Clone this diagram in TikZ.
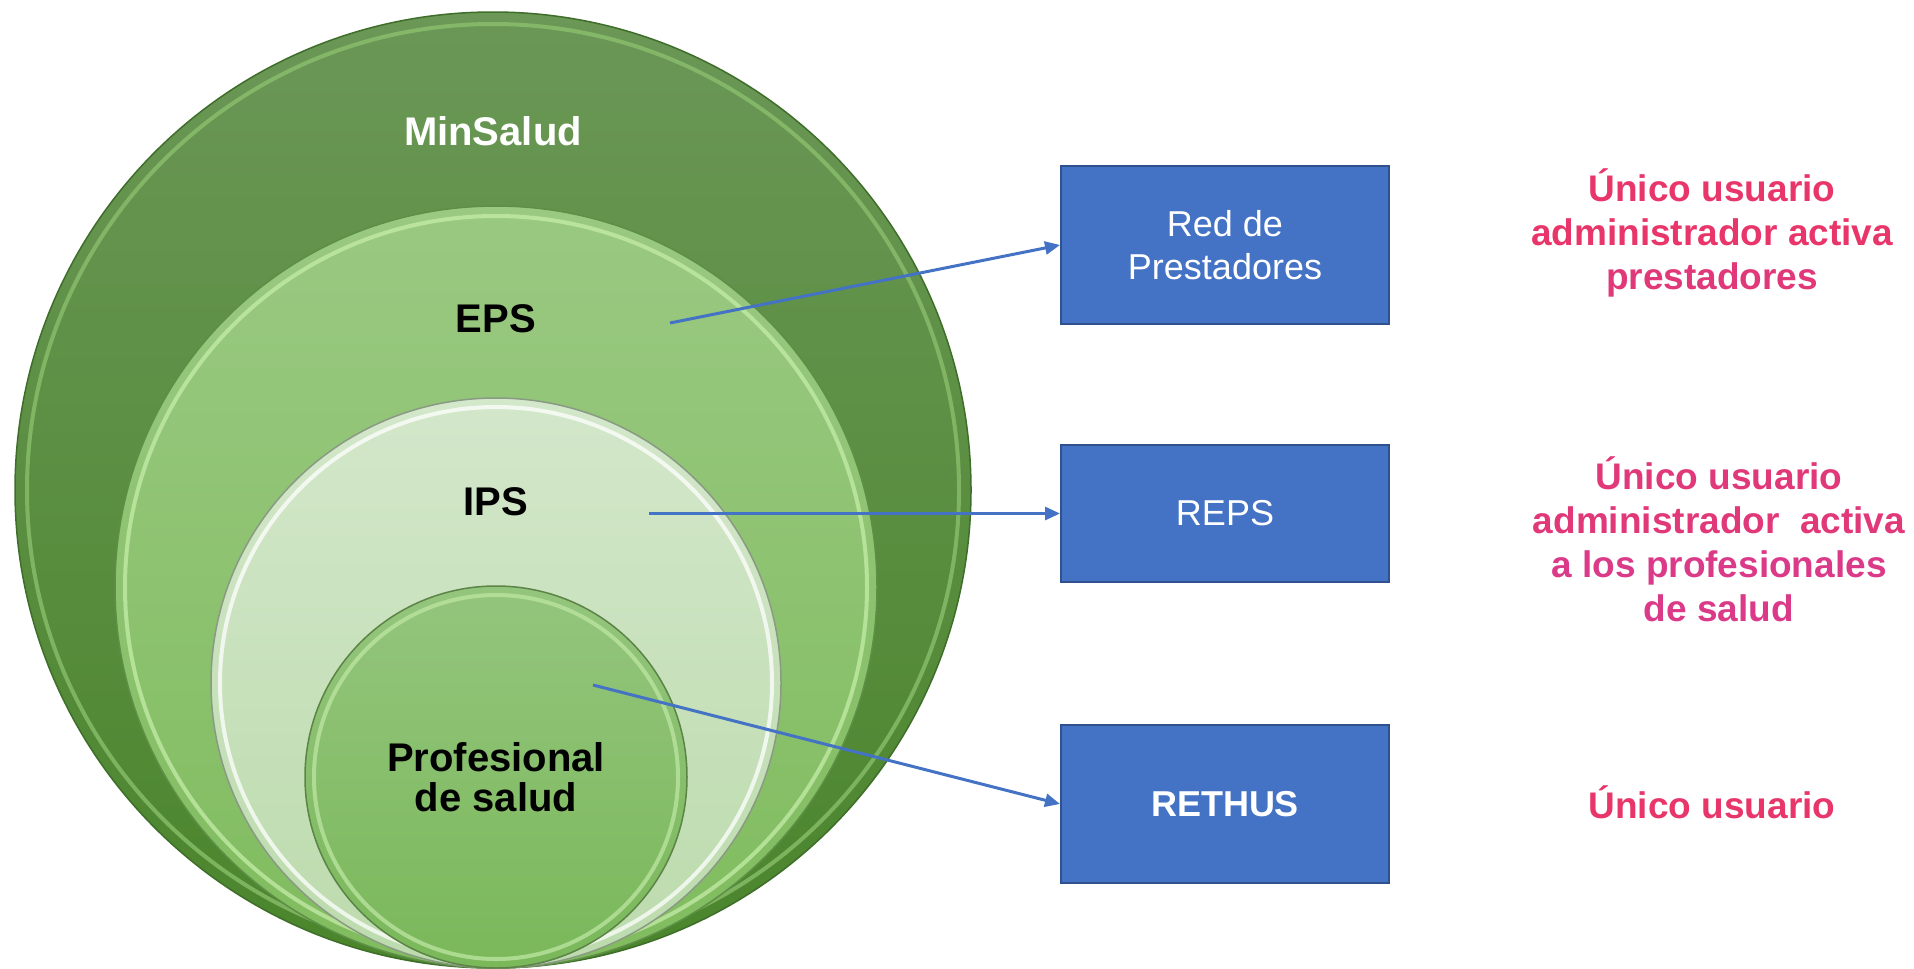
\documentclass[tikz,border=0pt]{standalone}
\usepackage{fontspec}
\setmainfont{Liberation Sans}
\usetikzlibrary{arrows.meta}
\definecolor{oTop}{HTML}{6B9757}
\definecolor{oBot}{HTML}{4A852B}
\definecolor{oEdge}{HTML}{3F6E2A}
\definecolor{oHi}{HTML}{8DC26F}
\definecolor{eTop}{HTML}{9AC982}
\definecolor{eBot}{HTML}{80BC5E}
\definecolor{eEdge}{HTML}{5E8F46}
\definecolor{eHi}{HTML}{C4EDA8}
\definecolor{iTop}{HTML}{D3E7CA}
\definecolor{iBot}{HTML}{BCDBAD}
\definecolor{iEdge}{HTML}{8A9A84}
\definecolor{iHi}{HTML}{FFFFFF}
\definecolor{pTop}{HTML}{94C57D}
\definecolor{pBot}{HTML}{7AB85A}
\definecolor{pEdge}{HTML}{5C8447}
\definecolor{pHi}{HTML}{BDE6A2}
\definecolor{boxblue}{HTML}{4472C4}
\definecolor{boxedge}{HTML}{2F528F}
\definecolor{pinkA}{HTML}{E8366A}
\definecolor{pinkB}{HTML}{E03879}
\definecolor{pinkC}{HTML}{DB3A88}
\begin{document}
\begin{tikzpicture}[x=1pt,y=-1pt,
  ring/.style={circle, inner sep=0pt, line width=1.5pt},
  hilite/.style={draw, line width=4pt, opacity=0.75},
  lbl/.style={font=\fontsize{40}{40}\selectfont\bfseries, align=center, inner sep=0pt},
  bluebox/.style={rectangle, fill=boxblue, draw=boxedge, line width=2pt, minimum width=328pt, text=white, align=center, font=\fontsize{36}{43}\selectfont},
  note/.style={font=\fontsize{37}{44}\selectfont\bfseries, align=center, inner sep=0pt},
  conn/.style={draw=boxblue, line width=3pt, -{Triangle[length=15pt,width=13pt]}}
]
\useasboundingbox (0,0) rectangle (1914,969);
% circles
\node[ring, minimum size=956pt, top color=oTop, bottom color=oBot, draw=oEdge] (cmin) at (493,490) {};
\draw[hilite, draw=oHi] (493,490) circle (466);
\node[ring, minimum size=762pt, top color=eTop, bottom color=eBot, draw=eEdge] (ceps) at (496,587) {};
\draw[hilite, draw=eHi] (496,587) circle (371);
\node[ring, minimum size=570pt, top color=iTop, bottom color=iBot, draw=iEdge] (cips) at (496,683) {};
\draw[hilite, draw=iHi] (496,683) circle (276);
\node[ring, minimum size=382pt, top color=pTop, bottom color=pBot, draw=pEdge] (cpro) at (496,777) {};
\draw[hilite, draw=pHi] (496,777) circle (182);
% labels
\node[lbl, text=white] (tmin) at (493,131) {MinSalud};
\node[lbl] (teps) at (496,319) {EPS};
\node[lbl] (tips) at (496,502) {IPS};
\node[lbl] (tpro) at (496,777) {Profesional\\de salud};
% boxes
\node[bluebox, minimum height=158pt] (red) at (1225,245) {Red de\\Prestadores};
\node[bluebox, minimum height=137pt] (reps) at (1225,513.5) {REPS};
\node[bluebox, minimum height=158pt, font=\fontsize{36}{43}\selectfont\bfseries] (rethus) at (1225,804) {RETHUS};
% connectors
\coordinate (s1) at (670,323);
\coordinate (s2) at (649,513.5);
\coordinate (s3) at (593,685);
\draw[conn] (s1) -- (red.west);
\draw[conn] (s2) -- (reps.west);
\draw[conn] (s3) -- (rethus.west);
% notes
\node[note] (n1) at (1712,233) {\textcolor{pinkA}{Único usuario}\\\textcolor{pinkA}{administrador activa}\\\textcolor{pinkB}{prestadores}};
\node[note] (n2) at (1719,539) {\textcolor{pinkB}{Único usuario}\\\textcolor{pinkB}{administrador\ \ activa}\\\textcolor{pinkC}{a los profesionales}\\\textcolor{pinkC}{de salud}};
\node[note, text=pinkA] (n3) at (1712,802) {Único usuario};
\end{tikzpicture}
\end{document}
